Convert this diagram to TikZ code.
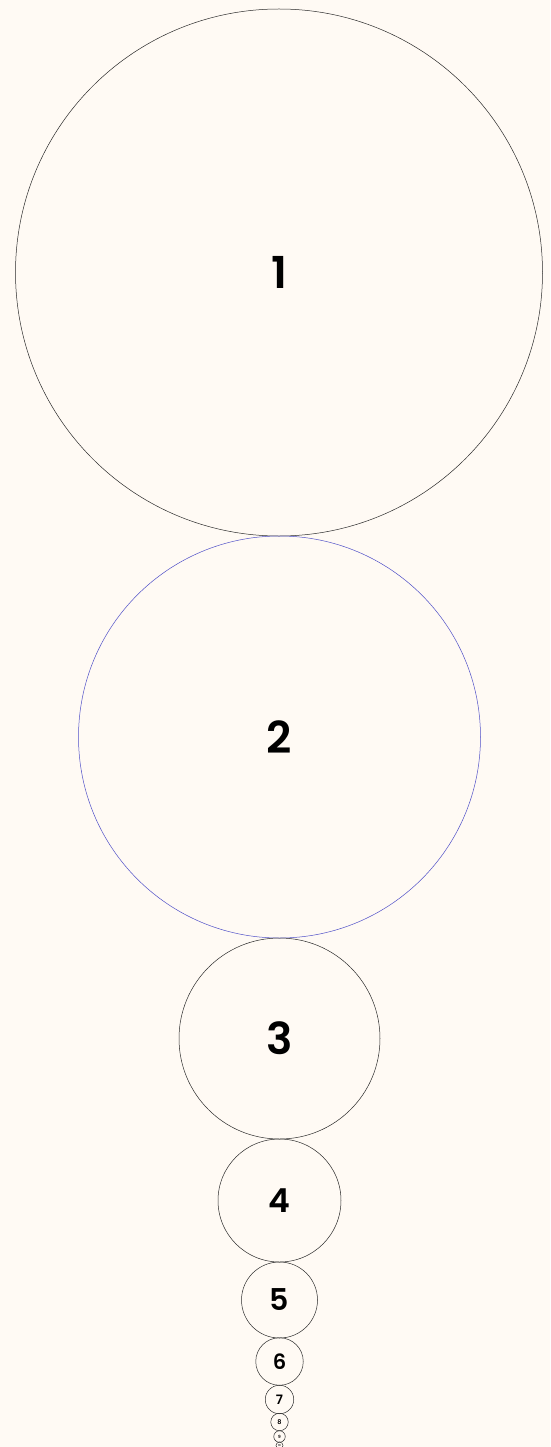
\documentclass[tikz,border=0pt]{standalone}
\usepackage{fontspec}
\setmainfont{Poppins}[BoldFont={Poppins SemiBold}]
\definecolor{bg}{HTML}{FFFAF4}
\definecolor{ring}{HTML}{2A2A2A}
\definecolor{bluering}{HTML}{5050C8}
\newcommand{\numfont}[1]{\bfseries\fontsize{#1}{#1}\selectfont}
\begin{document}
\begin{tikzpicture}[x=1pt,y=1pt,
  ball/.style={circle,draw=ring,line width=0.5pt,inner sep=0pt,text=black}]
\fill[bg] (0,0) rectangle (550,-1447);
\useasboundingbox (0,0) rectangle (550,-1447);
\node[ball,minimum size=527pt,font=\numfont{44}] (c1) at (279,-272.5) {1};
\node[ball,draw=bluering,minimum size=402pt,font=\numfont{44}] (c2) at (279.5,-737) {2};
\node[ball,minimum size=201pt,font=\numfont{44}] (c3) at (279.5,-1038.5) {3};
\node[ball,minimum size=123pt,font=\numfont{33}] (c4) at (279.5,-1200.5) {4};
\node[ball,minimum size=76pt,font=\numfont{30}] (c5) at (279.5,-1300) {5};
\node[ball,minimum size=47.5pt,font=\numfont{21}] (c6) at (279.5,-1361.5) {6};
\node[ball,minimum size=28.5pt,font=\numfont{13}] (c7) at (279.5,-1399.5) {7};
\node[ball,minimum size=17.5pt,font=\numfont{6.5}] (c8) at (279.5,-1422) {8};
\node[ball,minimum size=11.5pt,font=\numfont{4.3}] (c9) at (279.5,-1436.5) {9};
\node[ball,minimum size=7pt,font=\numfont{2.6}] (c10) at (279.5,-1445.5) {10};
\end{tikzpicture}
\end{document}
